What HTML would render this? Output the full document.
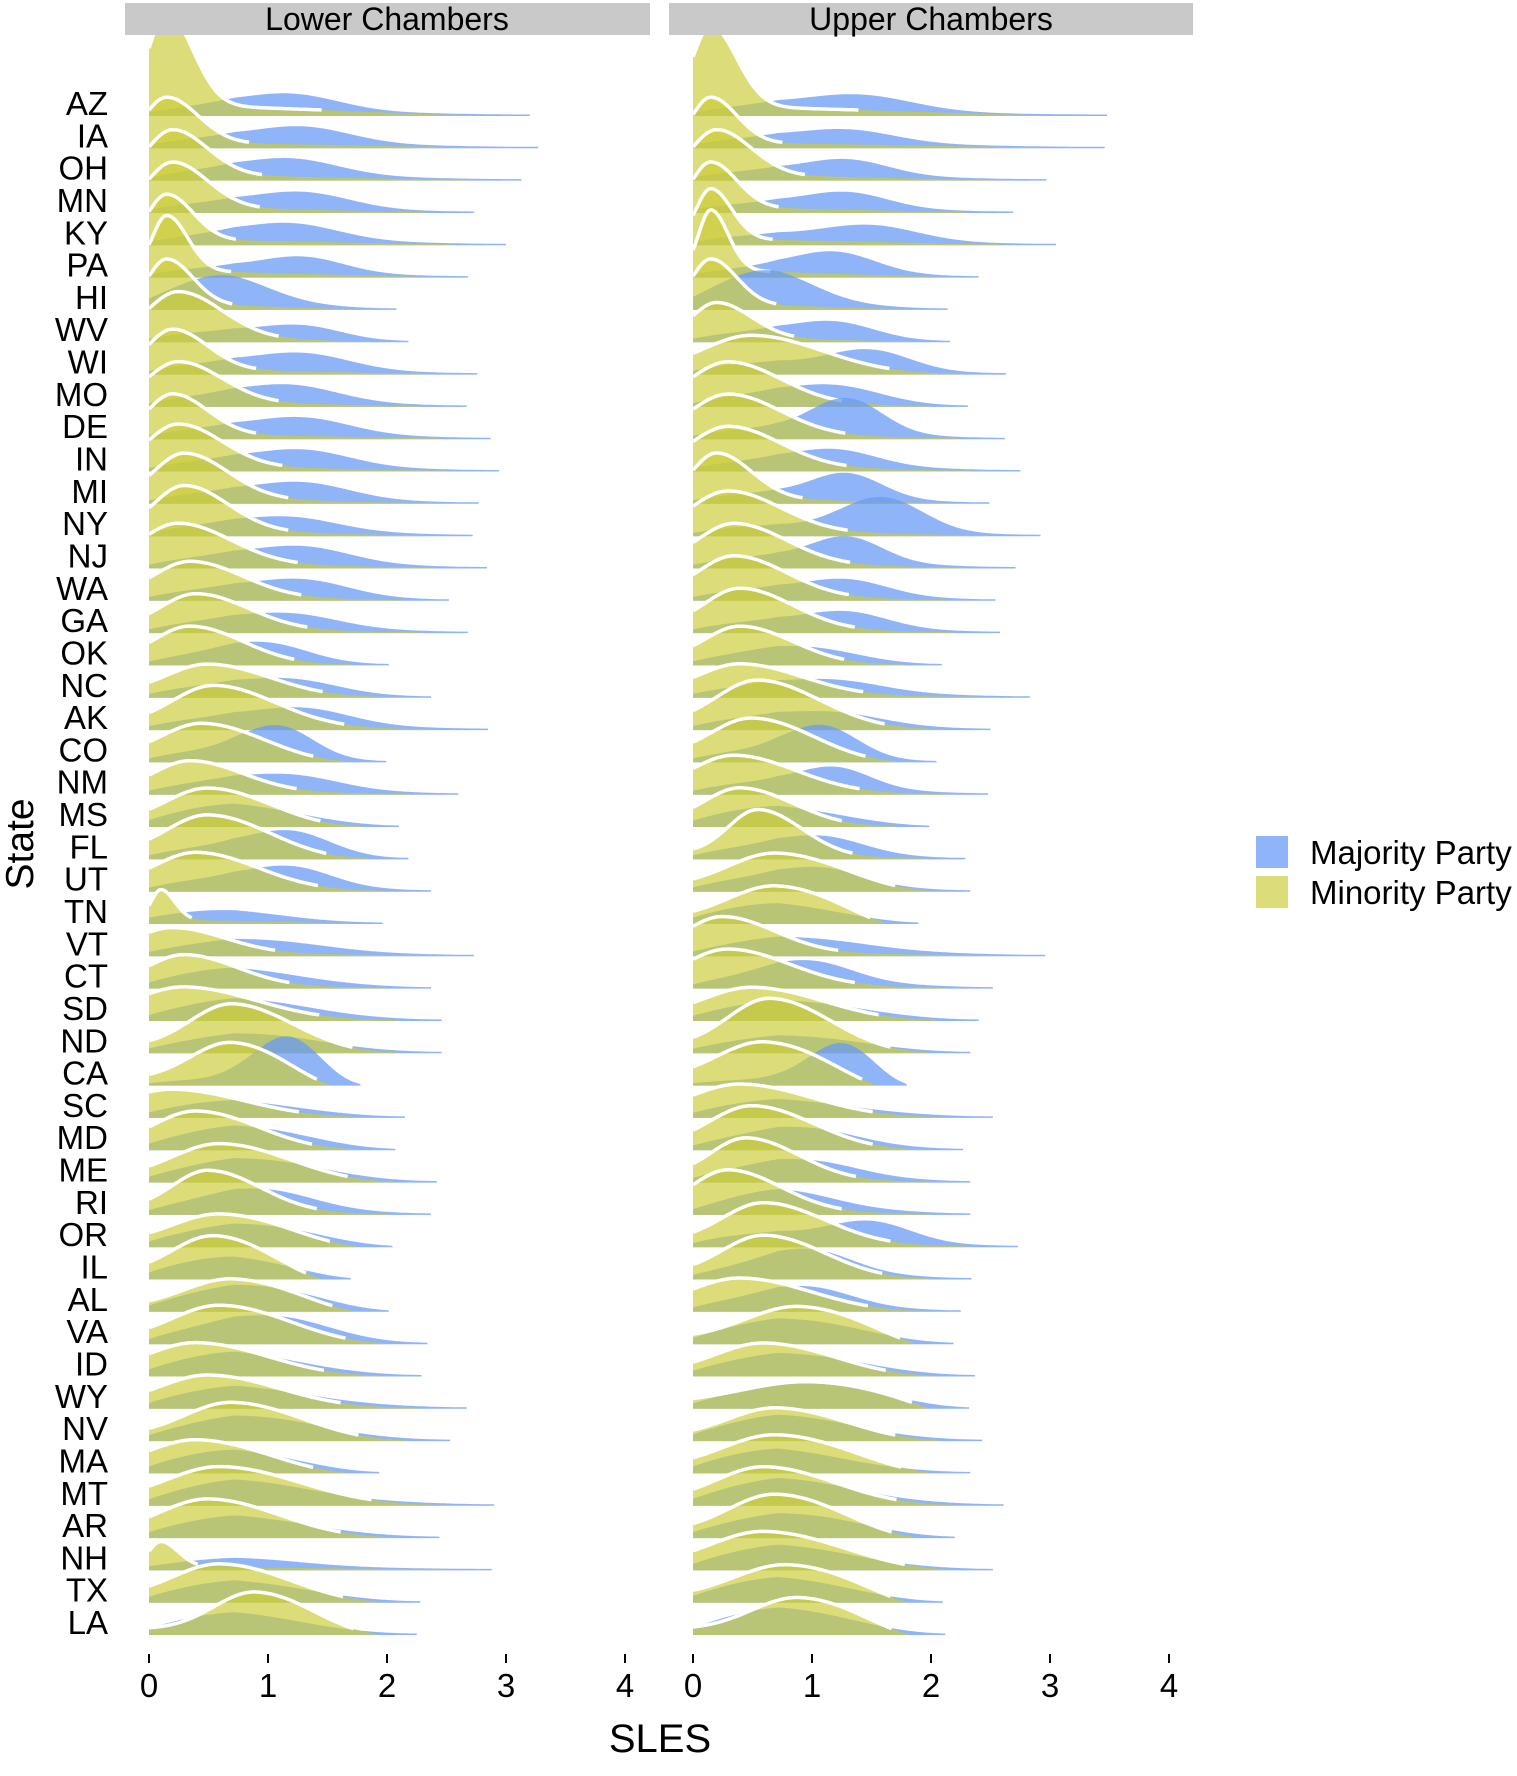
<!DOCTYPE html>
<html><head><meta charset="utf-8"><style>
html,body{margin:0;padding:0;background:#fff;}
svg text{font-family:"Liberation Sans",Arial,sans-serif;}
</style></head><body>
<svg id="chart" width="1517" height="1771" viewBox="0 0 1517 1771" xmlns="http://www.w3.org/2000/svg">
<defs>
<clipPath id="clipL"><rect x="125" y="35" width="525" height="1610"/></clipPath>
<clipPath id="clipU"><rect x="669" y="35" width="525" height="1610"/></clipPath>
</defs>
<rect x="125" y="3" width="525" height="32" fill="#c9c9c9"/>
<text x="387" y="30" font-size="32" text-anchor="middle">Lower Chambers</text>
<rect x="669" y="3" width="524" height="32" fill="#c9c9c9"/>
<text x="931" y="30" font-size="32" text-anchor="middle">Upper Chambers</text>
<g id="gL" clip-path="url(#clipL)"></g>
<g id="gU" clip-path="url(#clipU)"></g>
<g id="labels"></g>
<g id="axes"></g>
<text x="660" y="1752" font-size="40" text-anchor="middle">SLES</text>
<text transform="translate(33,844) rotate(-90)" font-size="39" text-anchor="middle">State</text>
<g>
<rect x="1256" y="836" width="32" height="32" fill="#8fb4f7"/>
<rect x="1256" y="876" width="32" height="32" fill="#dcdc78"/>
<text x="1310" y="864" font-size="33">Majority Party</text>
<text x="1310" y="904" font-size="33">Minority Party</text>
</g>
</svg>
<script>
const states=["AZ","IA","OH","MN","KY","PA","HI","WV","WI","MO","DE","IN","MI","NY","NJ","WA","GA","OK","NC","AK","CO","NM","MS","FL","UT","TN","VT","CT","SD","ND","CA","SC","MD","ME","RI","OR","IL","AL","VA","ID","WY","NV","MA","MT","AR","NH","TX","LA"];
const xTicks=[0,1,2,3,4];
// Lower chambers
const lowMinMode=[.15,.15,.2,.2,.15,.15,.15,.25,.2,.25,.2,.25,.3,.3,.25,.35,.4,.35,.5,.55,.45,.35,.5,.5,.4,.1,.2,.3,.3,.7,.7,.2,.4,.6,.5,.6,.55,.7,.6,.4,.5,.7,.4,.6,.5,.1,.6,.9];
const lowMinPeak=[92,45,45,45,45,55,45,45,40,40,40,42,45,45,40,35,35,35,30,40,35,30,35,40,35,30,25,30,30,45,40,25,35,35,40,30,40,30,35,30,30,35,30,35,35,25,35,40];
const lowMinSd=[.15,.18,.2,.2,.15,.12,.15,.25,.2,.25,.2,.25,.25,.25,.3,.3,.3,.3,.35,.35,.35,.3,.35,.35,.35,.08,.3,.3,.4,.35,.35,.4,.35,.4,.3,.4,.35,.4,.4,.4,.4,.4,.4,.45,.4,.1,.4,.35];
const lowMajMode=[1.2,1.3,1.2,1.3,1.2,1.3,.6,1.3,1.3,1.2,1.3,1.3,1.3,1.2,1.3,1.3,1.2,1.0,1.2,1.3,1.1,1.2,.8,1.2,1.2,.6,1.0,.8,.9,1.0,1.2,.8,.9,1.0,1.0,1.0,.8,1.0,1.1,.8,.9,1.0,.8,.9,.9,.8,.9,.8];
const lowMajPeak=[15,15,15,15,15,15,25,12,15,15,15,15,15,12,15,15,12,15,12,15,30,12,10,22,18,8,8,8,10,10,50,6,12,12,15,12,10,15,18,10,8,12,10,10,8,6,8,10];
const lowMajSd=[.4,.4,.4,.4,.4,.35,.4,.35,.4,.4,.4,.4,.4,.4,.4,.4,.4,.35,.4,.4,.3,.4,.5,.35,.35,.5,.5,.5,.5,.5,.3,.5,.5,.5,.4,.5,.5,.5,.45,.5,.5,.5,.5,.5,.5,.5,.5,.5];
const lowBase=[18,18,18,18,18,18,18,20,20,20,20,20,20,20,22,22,22,22,22,22,24,24,26,24,24,10,18,24,24,20,10,22,26,26,26,26,28,28,28,28,28,28,28,30,28,10,28,24];
const lowExt=[3.2,3.27,3.13,2.73,3.0,2.68,2.08,2.18,2.76,2.67,2.87,2.94,2.77,2.72,2.84,2.52,2.68,2.02,2.37,2.85,2.0,2.6,2.1,2.18,2.37,1.97,2.73,2.37,2.46,2.46,1.78,2.15,2.07,2.42,2.37,2.05,1.7,2.02,2.34,2.29,2.67,2.53,1.94,2.9,2.44,2.88,2.28,2.25];
// Upper chambers
const upMinMode=[.15,.15,.2,.15,.15,.15,.15,.2,.5,.3,.3,.3,.2,.3,.35,.35,.4,.4,.4,.55,.5,.35,.4,.55,.7,.7,.25,.3,.5,.65,.6,.4,.5,.45,.3,.6,.6,.4,.9,.6,1.0,.7,.7,.6,.7,.6,.8,.9];
const upMinPeak=[80,45,45,45,50,60,45,35,35,40,40,40,45,40,40,40,40,35,30,45,40,35,35,45,35,35,35,35,30,50,40,30,40,40,40,40,40,30,35,30,25,30,35,35,40,35,35,35];
const upMinSd=[.15,.15,.2,.15,.12,.1,.15,.2,.4,.3,.3,.3,.2,.3,.3,.3,.3,.3,.35,.35,.35,.35,.3,.25,.4,.4,.3,.35,.4,.35,.4,.4,.35,.3,.3,.35,.35,.4,.45,.4,.6,.4,.45,.4,.4,.45,.45,.4];
const upMajMode=[1.4,1.3,1.3,1.3,1.5,1.2,.6,1.2,1.5,1.2,1.3,1.2,1.3,1.6,1.3,1.3,1.3,1.0,1.2,1.2,1.1,1.2,.8,1.1,1.1,.8,1.0,1.0,1.0,1.0,1.3,.9,1.0,1.0,.8,1.5,1.0,1.0,1.0,1.0,1.2,.9,.8,.9,1.0,.9,.9,.9];
const upMajPeak=[15,12,15,15,15,20,30,15,20,15,35,15,25,35,25,15,15,10,10,10,30,20,8,15,15,8,8,18,8,8,45,6,12,12,12,20,20,15,12,10,15,12,10,12,12,10,10,12];
const upMajSd=[.45,.4,.35,.35,.4,.35,.4,.35,.35,.4,.3,.35,.3,.35,.3,.35,.35,.4,.4,.4,.3,.3,.5,.35,.35,.5,.5,.35,.5,.5,.3,.5,.4,.4,.4,.35,.35,.35,.5,.5,.5,.5,.5,.5,.5,.5,.5,.5];
const upBase=[18,18,18,18,18,18,18,20,22,22,20,20,20,18,22,22,22,22,22,24,24,24,26,24,26,26,22,24,26,20,10,24,26,26,26,26,26,26,30,28,30,28,28,30,28,30,32,32];
const upExt=[3.48,3.46,2.97,2.69,3.05,2.4,2.14,2.16,2.63,2.31,2.62,2.75,2.49,2.92,2.71,2.54,2.58,2.09,2.83,2.5,2.05,2.48,1.99,2.29,2.33,1.9,2.96,2.52,2.4,2.33,1.8,2.52,2.27,2.33,2.33,2.73,2.34,2.25,2.19,2.37,2.32,2.43,2.33,2.61,2.2,2.52,2.1,2.12];

const NS="http://www.w3.org/2000/svg";
const y0=116, rowH=32.32, unit=119;
function yRow(i){return y0+i*rowH;}
function xPix(panelX0,v){return panelX0+v*unit;}
function taper(x,ext){const r=x/ext;return Math.max(0,1-Math.pow(r,6));}

function majDens(x,mu,h,sd,base,ext){
  if(x>ext) return 0;
  const r=(ext-x)/ext;
  const ramp=Math.min(1,0.1+x/0.8);
  return (h*Math.exp(-(x-mu)*(x-mu)/(2*sd*sd)) + base*ramp*Math.pow(r,0.8)*Math.exp(-x*0.6))*taper(x,ext) + 1.5;
}
function minDens(x,mu,h,sd,ext){
  const e=ext*0.85;
  if(x>e) return 0;
  const s=x<mu?sd:sd*1.45;
  return (h*Math.exp(-(x-mu)*(x-mu)/(2*s*s)) + 0.12*h*(e-x)/e)*taper(x,e) + 1;
}
function areaPath(px0,yb,fn,ext){
  let d="M"+xPix(px0,0).toFixed(1)+","+yb.toFixed(1);
  let line="";
  for(let v=0;v<=ext+1e-9;v+=0.01){
    const val=fn(v);
    const X=xPix(px0,v).toFixed(1), Y=(yb-val).toFixed(1);
    d+=" L"+X+","+Y;
    if(val>6) line+=(line?" L":"M")+X+","+Y;
  }
  d+=" L"+xPix(px0,ext).toFixed(1)+","+yb.toFixed(1)+" Z";
  return {d,line};
}
function drawPanel(g,px0,minMode,minPeak,minSd,majMode,majPeak,majSd,base,ext,tag){
  states.forEach((s,i)=>{
    const yb=yRow(i);
    const grp=document.createElementNS(NS,"g");
    
    
    const mj=areaPath(px0,yb,v=>majDens(v,majMode[i],majPeak[i],majSd[i],base[i],ext[i]),ext[i]);
    const p1=document.createElementNS(NS,"path");
    
    
    p1.setAttribute("d",mj.d);p1.setAttribute("fill","rgb(104,154,244)");p1.setAttribute("fill-opacity","0.74");
    grp.appendChild(p1);
    const me=ext[i]*0.85;
    const mn=areaPath(px0,yb,v=>minDens(v,minMode[i],minPeak[i],minSd[i],ext[i]),me);
    const p2=document.createElementNS(NS,"path");
    
    
    p2.setAttribute("d",mn.d);p2.setAttribute("fill","rgb(204,204,56)");p2.setAttribute("fill-opacity","0.68");
    grp.appendChild(p2);
    const p3=document.createElementNS(NS,"path");
    
    
    p3.setAttribute("d",mn.line);p3.setAttribute("fill","none");p3.setAttribute("stroke","#fff");p3.setAttribute("stroke-width","3.5");
    grp.appendChild(p3);
    g.appendChild(grp);
  });
}
drawPanel(document.getElementById("gL"),149,lowMinMode,lowMinPeak,lowMinSd,lowMajMode,lowMajPeak,lowMajSd,lowBase,lowExt,"lower");
drawPanel(document.getElementById("gU"),693,upMinMode,upMinPeak,upMinSd,upMajMode,upMajPeak,upMajSd,upBase,upExt,"upper");

const lg=document.getElementById("labels");
states.forEach((s,i)=>{
  const t=document.createElementNS(NS,"text");
  
  
  t.setAttribute("x",108);t.setAttribute("y",(yRow(i)-1).toFixed(1));
  t.setAttribute("font-size","33");t.setAttribute("text-anchor","end");
  t.textContent=s;lg.appendChild(t);
});
const ax=document.getElementById("axes");
[149,693].forEach((px0,pi)=>{
  xTicks.forEach(v=>{
    const x=xPix(px0,v);
    const l=document.createElementNS(NS,"line");
    
    
    l.setAttribute("x1",x);l.setAttribute("x2",x);l.setAttribute("y1",1654);l.setAttribute("y2",1663);
    l.setAttribute("stroke","#000");l.setAttribute("stroke-width","2");ax.appendChild(l);
    const t=document.createElementNS(NS,"text");
    
    
    t.setAttribute("x",x);t.setAttribute("y",1697);t.setAttribute("font-size","33");t.setAttribute("text-anchor","middle");
    t.textContent=v;ax.appendChild(t);
  });
});
</script>
</body></html>
